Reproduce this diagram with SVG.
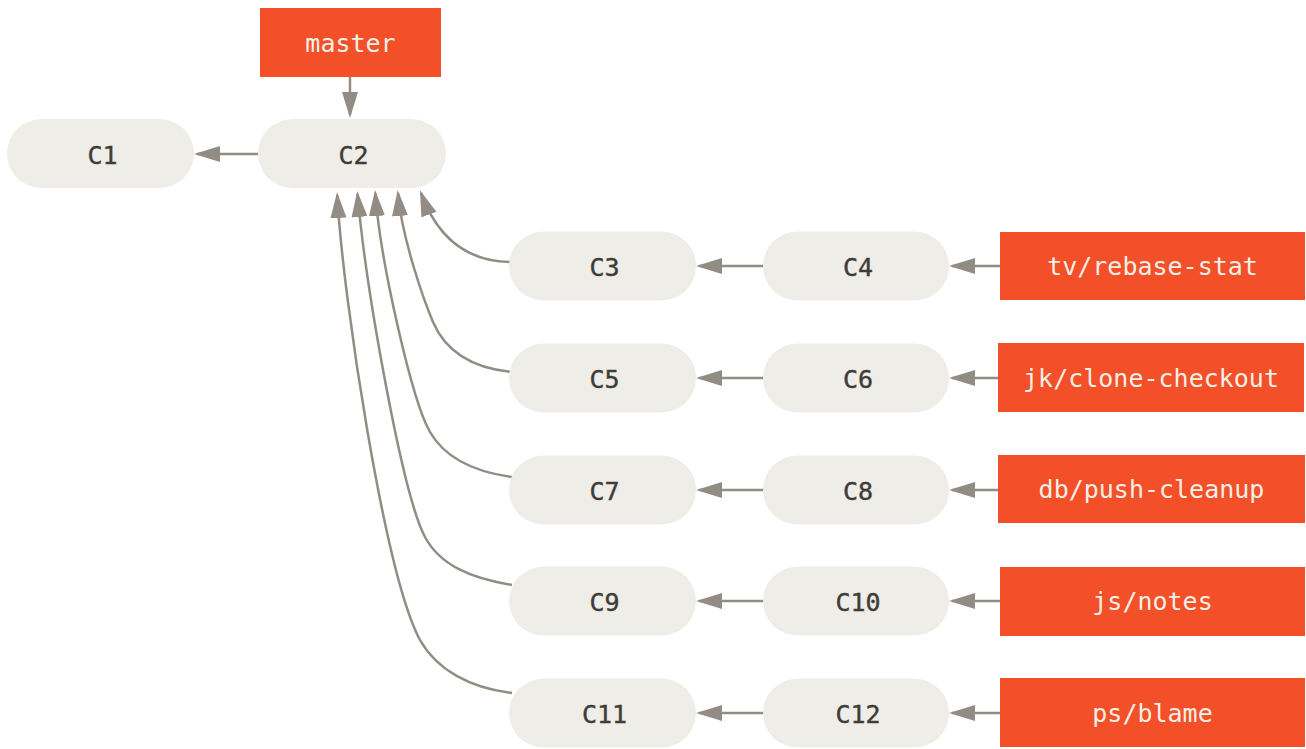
<svg xmlns="http://www.w3.org/2000/svg" width="1306" height="749" viewBox="0 0 1306 749">
  <style>
    .commit { fill: #eeede7; }
    .branch { fill: #f34f29; }
    .ctext { font-family: "DejaVu Sans Mono", "Liberation Mono", monospace; font-size: 25px; fill: #3f3c38; text-anchor: middle; stroke: #3f3c38; stroke-width: 0.4; }
    .btext { font-family: "DejaVu Sans Mono", "Liberation Mono", monospace; font-size: 25px; fill: #f2efe6; text-anchor: middle; }
    .edge { fill: none; stroke: #928c84; stroke-width: 2.5; marker-end: url(#arrow); }
  </style>
  <defs>
    <marker id="arrow" viewBox="0 0 26 16" refX="23" refY="8" markerWidth="26" markerHeight="16" markerUnits="userSpaceOnUse" orient="auto">
      <path d="M0,0 L26,8 L0,16 z" fill="#928c84"/>
    </marker>
  </defs>
  <rect width="1306" height="749" fill="#ffffff"/>

  <g id="connectors">
    <path class="edge" d="M350,77 L350,115"/>
    <path class="edge" d="M260,154 L197,154"/>
    <path class="edge" d="M512,262 C475,262 440,245 421,193"/>
    <path class="edge" d="M512,372 C470,368 445,350 433,322 C425,303 402,240 398,193"/>
    <path class="edge" d="M512,477 C475,472 445,458 430,432 C412,401 380,260 375.3,193"/>
    <path class="edge" d="M512,585 C470,578 440,565 425,537 C402.5,495 366,290 357.5,194"/>
    <path class="edge" d="M512,693 C470,688 437,670 420,640 C385,575 343,300 337.2,195"/>
    <path class="edge" d="M765,266 L699,266"/>
    <path class="edge" d="M765,378 L699,378"/>
    <path class="edge" d="M765,490 L699,490"/>
    <path class="edge" d="M765,601 L699,601"/>
    <path class="edge" d="M765,713 L699,713"/>
    <path class="edge" d="M1000,266 L952,266"/>
    <path class="edge" d="M1000,378 L952,378"/>
    <path class="edge" d="M1000,490 L952,490"/>
    <path class="edge" d="M1000,601 L952,601"/>
    <path class="edge" d="M1000,713 L952,713"/>
  </g>

  <g id="master">
    <rect class="branch" x="260" y="8" width="181" height="69"/>
    <text class="btext" x="350.5" y="52">master</text>
  </g>
  <g id="C1">
    <rect class="commit" x="7" y="119" width="187" height="69" rx="34.5"/>
    <text class="ctext" x="102.5" y="164">C1</text>
  </g>
  <g id="C2">
    <rect class="commit" x="258" y="119" width="188" height="69" rx="34.5"/>
    <text class="ctext" x="353.5" y="164">C2</text>
  </g>

  <g id="C3">
    <rect class="commit" x="509" y="231.5" width="187" height="69" rx="34.5"/>
    <text class="ctext" x="604.5" y="276">C3</text>
  </g>
  <g id="C4">
    <rect class="commit" x="763" y="231.5" width="186" height="69" rx="34.5"/>
    <text class="ctext" x="858" y="276">C4</text>
  </g>
  <g id="tv-rebase-stat">
    <rect class="branch" x="1000" y="232" width="305" height="68"/>
    <text class="btext" x="1152.5" y="275">tv/rebase-stat</text>
  </g>

  <g id="C5">
    <rect class="commit" x="509" y="343.5" width="187" height="69" rx="34.5"/>
    <text class="ctext" x="604.5" y="388">C5</text>
  </g>
  <g id="C6">
    <rect class="commit" x="763" y="343.5" width="186" height="69" rx="34.5"/>
    <text class="ctext" x="858" y="388">C6</text>
  </g>
  <g id="jk-clone-checkout">
    <rect class="branch" x="998" y="343" width="306" height="69"/>
    <text class="btext" x="1151" y="387">jk/clone-checkout</text>
  </g>

  <g id="C7">
    <rect class="commit" x="509" y="455.5" width="187" height="69" rx="34.5"/>
    <text class="ctext" x="604.5" y="500">C7</text>
  </g>
  <g id="C8">
    <rect class="commit" x="763" y="455.5" width="186" height="69" rx="34.5"/>
    <text class="ctext" x="858" y="500">C8</text>
  </g>
  <g id="db-push-cleanup">
    <rect class="branch" x="998" y="455" width="307" height="68"/>
    <text class="btext" x="1151.5" y="498">db/push-cleanup</text>
  </g>

  <g id="C9">
    <rect class="commit" x="509" y="566.5" width="187" height="69" rx="34.5"/>
    <text class="ctext" x="604.5" y="611">C9</text>
  </g>
  <g id="C10">
    <rect class="commit" x="763" y="566.5" width="186" height="69" rx="34.5"/>
    <text class="ctext" x="858" y="611">C10</text>
  </g>
  <g id="js-notes">
    <rect class="branch" x="1000" y="567" width="305" height="69"/>
    <text class="btext" x="1152.5" y="610">js/notes</text>
  </g>

  <g id="C11">
    <rect class="commit" x="509" y="678.5" width="187" height="69" rx="34.5"/>
    <text class="ctext" x="604.5" y="723">C11</text>
  </g>
  <g id="C12">
    <rect class="commit" x="763" y="678.5" width="186" height="69" rx="34.5"/>
    <text class="ctext" x="858" y="723">C12</text>
  </g>
  <g id="ps-blame">
    <rect class="branch" x="1000" y="678" width="305" height="69"/>
    <text class="btext" x="1152.5" y="722">ps/blame</text>
  </g>
</svg>
